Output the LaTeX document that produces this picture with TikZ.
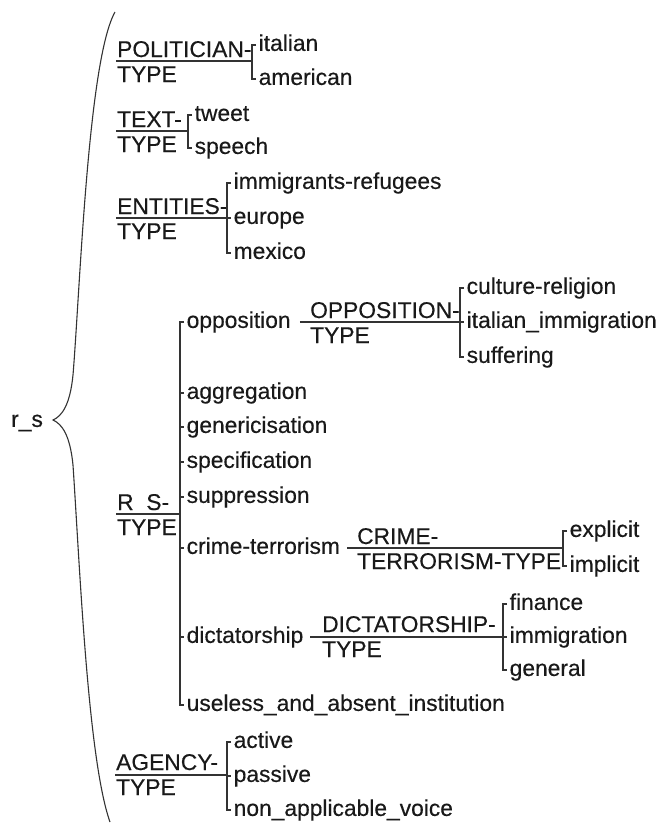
\documentclass[tikz,border=0pt]{standalone}
\usepackage{fontspec}
\setmainfont[FakeBold=0.35]{Liberation Sans}
\newcommand{\dgfont}{\fontsize{22.8}{25}\selectfont}
\begin{document}
\begin{tikzpicture}[x=1pt,y=-1pt,
  item/.style={anchor=west, inner sep=0pt, text height=16.5pt, text depth=4.7pt, font=\dgfont, text=black!90},
  lab/.style={anchor=base west, inner sep=0pt, font=\dgfont, text=black!90},
  ln/.style={line width=1.6pt, draw=black!80},
  brc/.style={line width=1.1pt, draw=black!80}]
\useasboundingbox (0,0) rectangle (664,823);
% root
\node[item] (root) at (11,421) {r\_s};
\draw[brc] (115,12) .. controls (88,60) and (80,290) .. (73,375)
  .. controls (70,405) and (62,416) .. (53,420)
  .. controls (62,424) and (70,435) .. (73,465)
  .. controls (80,570) and (88,760) .. (110,822);

% POLITICIAN-TYPE
\node[lab] (polA) at (117,57) {POLITICIAN-};
\node[lab] (polB) at (117,82) {TYPE};
\coordinate (polL) at (116,61);
\coordinate (polR) at (252,61);
\node[item] (pol1) at (258.5,45) {italian};
\node[item] (pol2) at (258.5,79) {american};
\draw[ln] (polL) -- (polR);
\draw[ln] ([xshift=-2.5pt]pol1.west) -- (252,45) -- (252,79) -- ([xshift=-2.5pt]pol2.west);

% TEXT-TYPE
\node[lab] (txtA) at (117,127) {TEXT-};
\node[lab] (txtB) at (117,152) {TYPE};
\coordinate (txtL) at (116,131);
\coordinate (txtR) at (188,131);
\node[item] (txt1) at (194.5,115) {tweet};
\node[item] (txt2) at (194.5,148) {speech};
\draw[ln] (txtL) -- (txtR);
\draw[ln] ([xshift=-2.5pt]txt1.west) -- (188,115) -- (188,148) -- ([xshift=-2.5pt]txt2.west);

% ENTITIES-TYPE
\node[lab] (entA) at (117,214) {ENTITIES-};
\node[lab] (entB) at (117,239) {TYPE};
\coordinate (entL) at (116,218);
\coordinate (entR) at (227,218);
\node[item] (ent1) at (233.5,183) {immigrants-refugees};
\node[item] (ent2) at (233.5,218) {europe};
\node[item] (ent3) at (233.5,253) {mexico};
\draw[ln] (entL) -- (entR);
\draw[ln] ([xshift=-2.5pt]ent1.west) -- (227,183) -- (227,253) -- ([xshift=-2.5pt]ent3.west);
\draw[ln] (entR) -- ([xshift=-2.5pt]ent2.west);

% R_S-TYPE
\node[lab] (rsA) at (117,510) {R\_S-};
\node[lab] (rsB) at (117,535) {TYPE};
\coordinate (rsL) at (116,514);
\coordinate (rsR) at (180,514);
\node[item] (rs1) at (186.5,322) {opposition};
\node[item] (rs2) at (186.5,393) {aggregation};
\node[item] (rs3) at (186.5,427) {genericisation};
\node[item] (rs4) at (186.5,462) {specification};
\node[item] (rs5) at (186.5,497) {suppression};
\node[item] (rs6) at (186.5,548) {crime-terrorism};
\node[item] (rs7) at (186.5,637) {dictatorship};
\node[item] (rs8) at (186.5,705) {useless\_and\_absent\_institution};
\draw[ln] (rsL) -- (rsR);
\draw[ln] ([xshift=-2.5pt]rs1.west) -- (180,322) -- (180,705) -- ([xshift=-2.5pt]rs8.west);
\foreach \n/\yy in {rs2/393,rs3/427,rs4/462,rs5/497,rs6/548,rs7/637}
  \draw[ln] (180,\yy) -- ([xshift=-2.5pt]\n.west);

% OPPOSITION-TYPE
\node[lab] (oppA) at (310,318) {OPPOSITION-};
\node[lab] (oppB) at (310,343) {TYPE};
\coordinate (oppR) at (460,322);
\node[item] (opp1) at (466.5,288) {culture-religion};
\node[item] (opp2) at (466.5,322) {italian\_immigration};
\node[item] (opp3) at (466.5,357) {suffering};
\draw[ln] ([xshift=9pt]rs1.east) -- (oppR);
\draw[ln] ([xshift=-2.5pt]opp1.west) -- (460,288) -- (460,357) -- ([xshift=-2.5pt]opp3.west);
\draw[ln] (oppR) -- ([xshift=-2.5pt]opp2.west);

% CRIME-TERRORISM-TYPE
\node[lab] (crA) at (357,544) {CRIME-};
\node[lab] (crB) at (357,569) {TERRORISM-TYPE};
\coordinate (crR) at (563,548);
\node[item] (cr1) at (569.5,531) {explicit};
\node[item] (cr2) at (569.5,566) {implicit};
\draw[ln] ([xshift=7pt]rs6.east) -- (crR);
\draw[ln] ([xshift=-2.5pt]cr1.west) -- (563,531) -- (563,566) -- ([xshift=-2.5pt]cr2.west);

% DICTATORSHIP-TYPE
\node[lab] (dcA) at (322,632) {DICTATORSHIP-};
\node[lab] (dcB) at (322,657) {TYPE};
\coordinate (dcR) at (503,637);
\node[item] (dc1) at (509.5,604) {finance};
\node[item] (dc2) at (509.5,637) {immigration};
\node[item] (dc3) at (509.5,670) {general};
\draw[ln] ([xshift=7pt]rs7.east) -- (dcR);
\draw[ln] ([xshift=-2.5pt]dc1.west) -- (503,604) -- (503,670) -- ([xshift=-2.5pt]dc3.west);
\draw[ln] (dcR) -- ([xshift=-2.5pt]dc2.west);

% AGENCY-TYPE
\node[lab] (agA) at (116,770) {AGENCY-};
\node[lab] (agB) at (116,795) {TYPE};
\coordinate (agL) at (115,775);
\coordinate (agR) at (227,775);
\node[item] (ag1) at (233.5,742) {active};
\node[item] (ag2) at (233.5,776) {passive};
\node[item] (ag3) at (233.5,810) {non\_applicable\_voice};
\draw[ln] (agL) -- (agR);
\draw[ln] ([xshift=-2.5pt]ag1.west) -- (227,742) -- (227,810) -- ([xshift=-2.5pt]ag3.west);
\draw[ln] (227,776) -- ([xshift=-2.5pt]ag2.west);
\end{tikzpicture}
\end{document}
